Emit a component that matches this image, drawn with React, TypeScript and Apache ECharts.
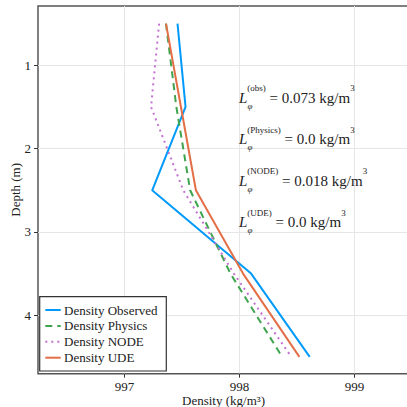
import React, { useEffect, useRef } from "react";
import * as echarts from "echarts";

const depths = [0.5, 1.5, 2.5, 3.5, 4.5];
const densityObserved = [997.46, 997.53, 997.24, 998.1, 998.61];
const densityPhysics = [997.36, 997.45, 997.57, 997.92, 998.37];
const densityNODE = [997.3, 997.23, 997.51, 997.95, 998.45];
const densityUDE = [997.36, 997.49, 997.62, 998.03, 998.52];
const xTicks = [997, 998, 999];
const yTicks = [1, 2, 3, 4];
const seriesNames = ["Density Observed", "Density Physics", "Density NODE", "Density UDE"];
const lossLabels = ["obs", "Physics", "NODE", "UDE"];
const lossValues = ["0.073", "0.0", "0.018", "0.0"];

const FONT = "'Liberation Serif', 'DejaVu Serif', serif";
const TEXT = "#222";

export default function App() {
  const ref = useRef<HTMLDivElement>(null);
  useEffect(() => {
    if (!ref.current) return;
    const chart = echarts.init(ref.current, null, { renderer: "svg" });
    const pairs = (vals: number[]) => vals.map((v, i) => [v, depths[i]]);
    const styles: { color: string; type: any; dash: number[] | null }[] = [
      { color: "#009AFA", type: "solid", dash: null },
      { color: "#3EA44E", type: [7, 5], dash: [7, 5] },
      { color: "#C371D2", type: [2, 4], dash: [2, 4] },
      { color: "#E36F47", type: "solid", dash: null },
    ];
    const data = [densityObserved, densityPhysics, densityNODE, densityUDE];
    const series = data.map((vals, i) => ({
      name: seriesNames[i],
      type: "line",
      data: pairs(vals),
      symbol: "none",
      showSymbol: false,
      color: styles[i].color,
      lineStyle: { color: styles[i].color, width: 2, type: styles[i].type },
      z: 2 + i,
    }));

    const graphics: any[] = [];
    lossLabels.forEach((lab, i) => {
      const y = 97.5 + i * 41.5;
      graphics.push({
        type: "text",
        x: 239,
        y,
        z: 100,
        style: {
          text: `{L|L}{sup|(${lab})}{eq| = ${lossValues[i]} kg/m}{sup|3}`,
          verticalAlign: "middle",
          align: "left",
          rich: {
            L: { fontFamily: FONT, fontStyle: "italic", fontSize: 15, lineHeight: 28, fill: TEXT, color: TEXT },
            sup: { fontFamily: FONT, fontSize: 9, lineHeight: 9, verticalAlign: "top", fill: TEXT, color: TEXT },
            eq: { fontFamily: FONT, fontSize: 15, lineHeight: 28, fill: TEXT, color: TEXT },
          },
          fill: TEXT,
        },
      });
      graphics.push({
        type: "text",
        x: 247.5,
        y: y + 8,
        z: 100,
        style: {
          text: "φ",
          fontFamily: FONT,
          fontStyle: "italic",
          fontSize: 9,
          fill: TEXT,
          verticalAlign: "middle",
          align: "left",
        },
      });
    });

    // legend box
    const lgX = 39.7;
    const lgY = 296.7;
    graphics.push({
      type: "rect",
      z: 100,
      shape: { x: lgX, y: lgY, width: 126.6, height: 74.3 },
      style: { fill: "#fff", stroke: "#333", lineWidth: 1.2 },
    });
    seriesNames.forEach((nm, i) => {
      const ry = 310 + i * 15.9;
      graphics.push({
        type: "line",
        z: 101,
        shape: { x1: 45.3, y1: ry, x2: 60.7, y2: ry },
        style: { stroke: styles[i].color, lineWidth: 2, lineDash: styles[i].dash || undefined },
      });
      graphics.push({
        type: "text",
        z: 101,
        x: 64,
        y: ry,
        style: { text: nm, fontFamily: FONT, fontSize: 13, fill: TEXT, verticalAlign: "middle", align: "left" },
      });
    });

    chart.setOption({
      animation: false,
      backgroundColor: "#fff",
      grid: {
        left: 38,
        top: 6,
        right: -2,
        bottom: 33.3,
        show: true,
        borderColor: "#555",
        borderWidth: 1.5,
        outerBoundsMode: "none",
        containLabel: false,
      },
      xAxis: {
        type: "value",
        min: 996.247,
        max: 999.473,
        name: "Density (kg/m³)",
        nameLocation: "middle",
        nameGap: 20,
        nameMoveOverlap: false,
        nameTextStyle: { fontFamily: FONT, fontSize: 13, color: TEXT },
        axisLine: { show: false },
        axisTick: { show: true, customValues: xTicks, length: 4, lineStyle: { color: "#333" } },
        axisLabel: { customValues: xTicks, fontFamily: FONT, fontSize: 13, color: TEXT, margin: 6 },
        splitLine: { show: true, lineStyle: { color: "#e6e6e6", width: 1 } },
      },
      yAxis: {
        type: "value",
        inverse: true,
        min: 0.288,
        max: 4.702,
        name: "Depth (m)",
        nameLocation: "middle",
        nameGap: 16,
        nameMoveOverlap: false,
        nameTextStyle: { fontFamily: FONT, fontSize: 13, color: TEXT },
        axisLine: { show: false },
        axisTick: { show: true, customValues: yTicks, length: 4, lineStyle: { color: "#333" } },
        axisLabel: { customValues: yTicks, fontFamily: FONT, fontSize: 13, color: TEXT, margin: 7 },
        splitLine: { show: true, lineStyle: { color: "#e6e6e6", width: 1 } },
      },
      series,
      graphic: graphics,
    });
    return () => chart.dispose();
  }, []);
  return (
    <div
      ref={ref}
      style={{ position: "absolute", left: 0, top: 0, width: 407, height: 407 }}
    />
  );
}
